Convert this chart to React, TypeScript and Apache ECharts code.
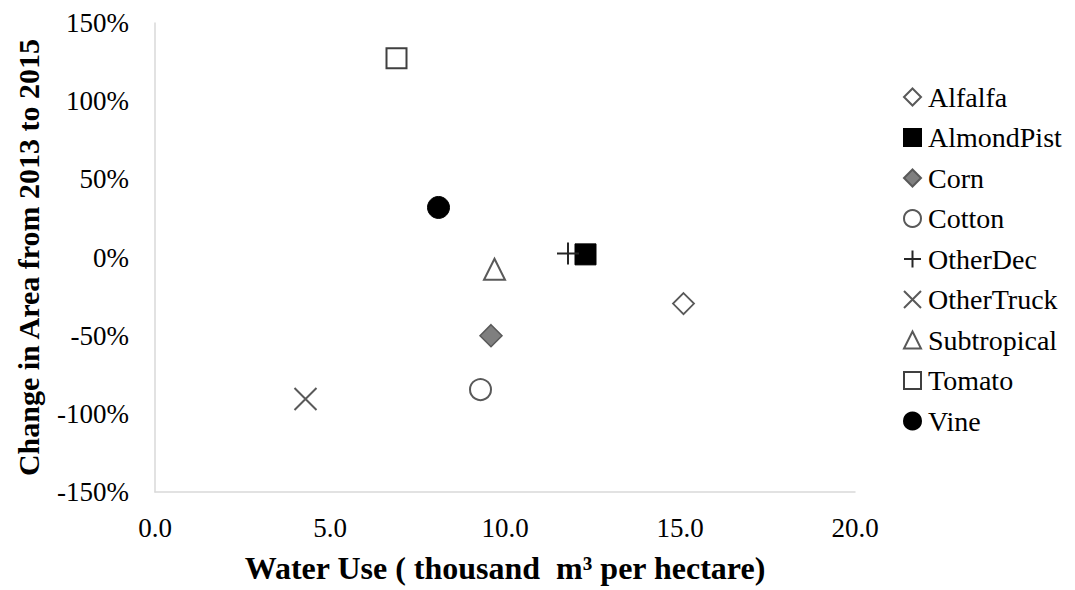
import React, { useEffect, useRef } from "react";
import * as echarts from "echarts";

const crops = ["Alfalfa", "AlmondPist", "Corn", "Cotton", "OtherDec", "OtherTruck", "Subtropical", "Tomato", "Vine"];
const waterUse = [15.1, 12.3, 9.6, 9.3, 11.8, 4.3, 9.7, 6.9, 8.1];
const areaChange = [-29.5, 2, -50, -84.5, 2.6, -90.5, -7.5, 127.5, 32];
const xTicks = { min: 0, max: 20, interval: 5 };
const yTicks = { min: -150, max: 150, interval: 50 };

const GRAY = "#595959";
const PLUS = "path://M0,10L20,10M10,0L10,20";
const CROSS = "path://M0,0L20,20M20,0L0,20";

const markerStyles: Record<string, any> = {
  Alfalfa: { symbol: "diamond", size: 21, itemStyle: { color: "#fff", borderColor: GRAY, borderWidth: 1.8 } },
  AlmondPist: { symbol: "rect", size: 21, itemStyle: { color: "#000", borderColor: "#000", borderWidth: 1 } },
  Corn: { symbol: "diamond", size: 22, itemStyle: { color: "#7f7f7f", borderColor: GRAY, borderWidth: 1.5 } },
  Cotton: { symbol: "circle", size: 21, itemStyle: { color: "#fff", borderColor: GRAY, borderWidth: 2 } },
  OtherDec: { symbol: PLUS, size: 22, itemStyle: { color: "#000", borderColor: "#262626", borderWidth: 2 } },
  OtherTruck: { symbol: CROSS, size: 22, itemStyle: { color: GRAY, borderColor: GRAY, borderWidth: 2 } },
  Subtropical: { symbol: "triangle", size: 21, itemStyle: { color: "#fff", borderColor: GRAY, borderWidth: 2 } },
  Tomato: { symbol: "rect", size: 20, itemStyle: { color: "#fff", borderColor: "#404040", borderWidth: 2 } },
  Vine: { symbol: "circle", size: 22, itemStyle: { color: "#000", borderColor: "#000", borderWidth: 1 } },
};

export default function App() {
  const ref = useRef<HTMLDivElement>(null);
  useEffect(() => {
    if (!ref.current) return;
    const chart = echarts.init(ref.current, undefined, { renderer: "svg" });
    const serif = "'Liberation Serif', 'Times New Roman', serif";
    chart.setOption({
      animation: false,
      backgroundColor: "#fff",
      grid: { left: 155, right: 220, top: 23, bottom: 98, containLabel: false },
      xAxis: {
        type: "value",
        min: xTicks.min,
        max: xTicks.max,
        interval: xTicks.interval,
        splitLine: { show: false },
        axisTick: { show: false },
        axisLine: { show: true, onZero: false, lineStyle: { color: "#d9d9d9", width: 1.5 } },
        axisLabel: {
          formatter: (v: number) => v.toFixed(1),
          fontFamily: serif,
          fontSize: 27,
          color: "#000",
          margin: 22,
        },
        name: "Water Use ( thousand  m³ per hectare)",
        nameLocation: "middle",
        nameGap: 60,
        nameTextStyle: { fontFamily: serif, fontSize: 32, fontWeight: "bold", color: "#000" },
      },
      yAxis: {
        type: "value",
        min: yTicks.min,
        max: yTicks.max,
        interval: yTicks.interval,
        splitLine: { show: false },
        axisTick: { show: false },
        axisLine: { show: true, onZero: false, lineStyle: { color: "#d9d9d9", width: 1.5 } },
        axisLabel: {
          formatter: (v: number) => `${v}%`,
          fontFamily: serif,
          fontSize: 27,
          color: "#000",
          margin: 26,
        },
        name: "Change in Area from 2013 to 2015",
        nameLocation: "middle",
        nameGap: 112,
        nameTextStyle: { fontFamily: serif, fontSize: 30, fontWeight: "bold", color: "#000" },
      },
      legend: {
        orient: "vertical",
        left: 898,
        top: 78,
        itemWidth: 17,
        itemHeight: 17,
        itemGap: 12.5,
        data: crops,
        textStyle: { fontFamily: serif, fontSize: 28, color: "#000", lineHeight: 28, padding: [0, 0, 0, 2] },
      },
      series: crops.map((c, i) => ({
        name: c,
        type: "scatter",
        symbol: markerStyles[c].symbol,
        symbolSize: markerStyles[c].size,
        itemStyle: { ...markerStyles[c].itemStyle, opacity: 1 },
        data: [[waterUse[i], areaChange[i]]],
      })),
    });
    return () => chart.dispose();
  }, []);
  return <div ref={ref} style={{ position: "absolute", left: 0, top: 0, width: 1075, height: 590 }} />;
}
